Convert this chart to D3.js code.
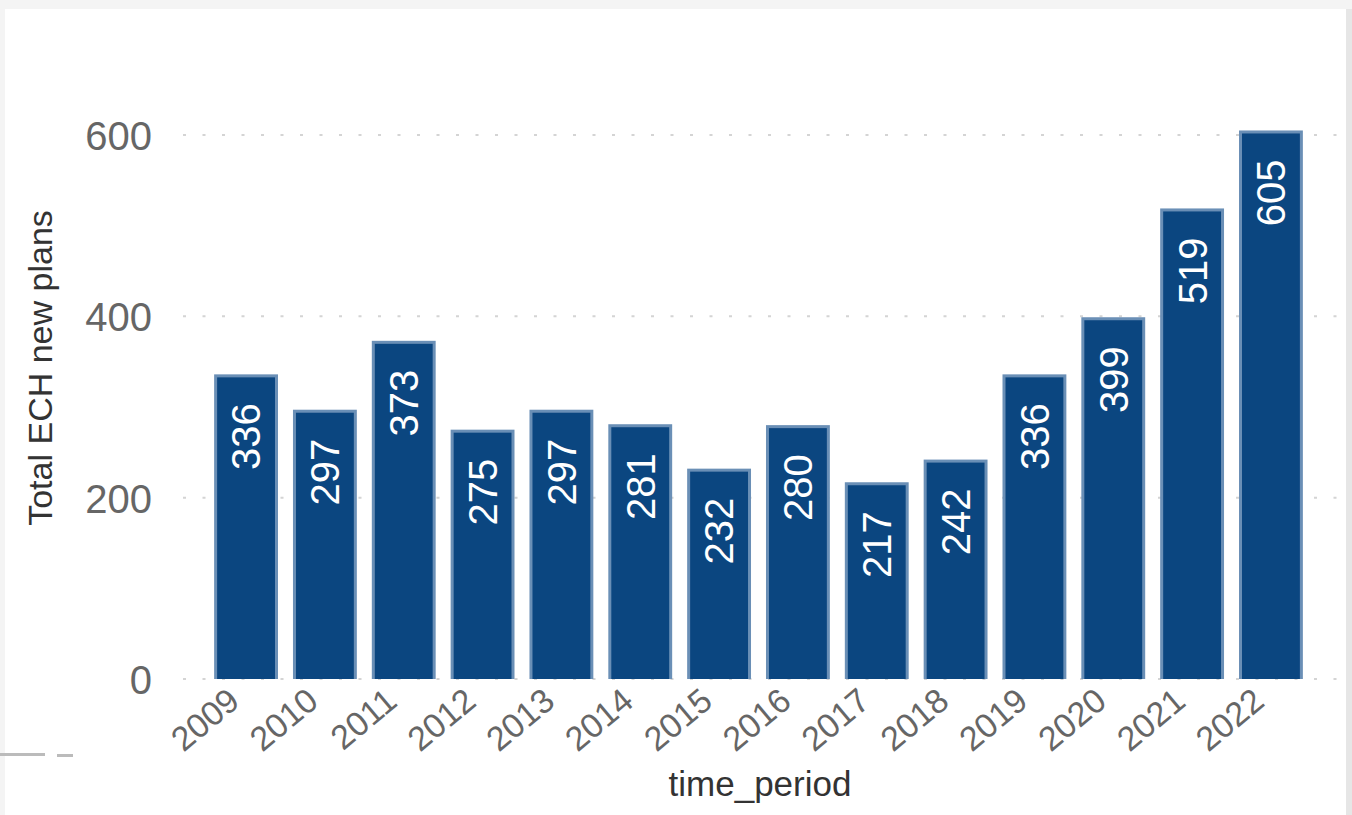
<!DOCTYPE html>
<html><head><meta charset="utf-8">
<script src="https://cdn.jsdelivr.net/npm/d3@7"></script>
<style>html,body{margin:0;padding:0;background:#fff;}svg{display:block;}</style>
</head><body>
<svg id="c" width="1352" height="815"></svg>
<script>
const years = ["2009","2010","2011","2012","2013","2014","2015","2016","2017","2018","2019","2020","2021","2022"];
const values = [336,297,373,275,297,281,232,280,217,242,336,399,519,605];
const yTicks = [0,200,400,600];

const svg = d3.select("#c");
const W = 1352, H = 815;
// card background
svg.append("rect").attr("x",0).attr("y",0).attr("width",W).attr("height",H).attr("fill","#f4f4f4");
svg.append("rect").attr("x",5).attr("y",9).attr("width",1341).attr("height",H).attr("fill","#fff");
svg.append("rect").attr("x",1346).attr("y",9).attr("width",6).attr("height",H).attr("fill","#e6e6e6");
svg.append("rect").attr("x",0).attr("y",753).attr("width",45).attr("height",3).attr("fill","#bbb");
svg.append("rect").attr("x",57).attr("y",754).attr("width",16).attr("height",3).attr("fill","#bbb");

const x = d3.scaleBand().domain(years).range([196,1321]).paddingInner(0.19).paddingOuter(0.23);
const y = d3.scaleLinear().domain([0,600]).range([679,135]);

// gridlines
svg.append("g").selectAll("line").data(yTicks).join("line")
  .attr("x1",183).attr("x2",1340).attr("y1",d=>y(d)).attr("y2",d=>y(d))
  .attr("stroke","#d4d4d4").attr("stroke-width",2).attr("stroke-dasharray","3,16.5");

// y axis
const yAxis = d3.axisLeft(y).tickValues(yTicks).tickSize(0).tickPadding(0);
const gy = svg.append("g").attr("transform","translate(152,0)").call(yAxis);
gy.select(".domain").remove();
gy.selectAll("text").attr("font-family","Liberation Sans, Arial, sans-serif").attr("font-size",40).attr("fill","#666").attr("dy","0.36em");

// bars
const bars = svg.append("g").selectAll("g").data(years).join("g");
bars.append("rect")
  .attr("x",d=>x(d)).attr("width",x.bandwidth())
  .attr("y",(d,i)=>y(values[i])).attr("height",(d,i)=>y(0)-y(values[i]))
  .attr("fill","#6a8fb6");
bars.append("rect")
  .attr("x",d=>x(d)+3).attr("width",x.bandwidth()-6)
  .attr("y",(d,i)=>y(values[i])+3).attr("height",(d,i)=>y(0)-y(values[i])-3)
  .attr("fill","#0b4680");

// value labels
bars.append("text")
  .attr("transform",(d,i)=>`translate(${x(d)+x.bandwidth()/2},${y(values[i])+29}) rotate(-90)`)
  .attr("text-anchor","end").attr("dy","0.36em")
  .attr("font-family","Liberation Sans, Arial, sans-serif").attr("font-size",40)
  .attr("fill","#fff")
  .text((d,i)=>values[i]);

// x axis
const xAxis = d3.axisBottom(x).tickSize(0).tickPadding(0);
const gx = svg.append("g").attr("transform","translate(0,690)").call(xAxis);
gx.select(".domain").remove();
gx.selectAll("text")
  .attr("font-family","Liberation Sans, Arial, sans-serif").attr("font-size",34).attr("fill","#666")
  .attr("text-anchor","end").attr("dy","0.7em")
  .attr("transform","translate(-20,-4) rotate(-40)");

// axis titles
svg.append("text").attr("transform","translate(40,368) rotate(-90)")
  .attr("text-anchor","middle").attr("dy","0.36em")
  .attr("font-family","Liberation Sans, Arial, sans-serif").attr("font-size",34).attr("fill","#333")
  .text("Total ECH new plans");
svg.append("text").attr("x",760).attr("y",783)
  .attr("text-anchor","middle").attr("dy","0.36em")
  .attr("font-family","Liberation Sans, Arial, sans-serif").attr("font-size",35).attr("fill","#333")
  .text("time_period");
</script>
</body></html>
